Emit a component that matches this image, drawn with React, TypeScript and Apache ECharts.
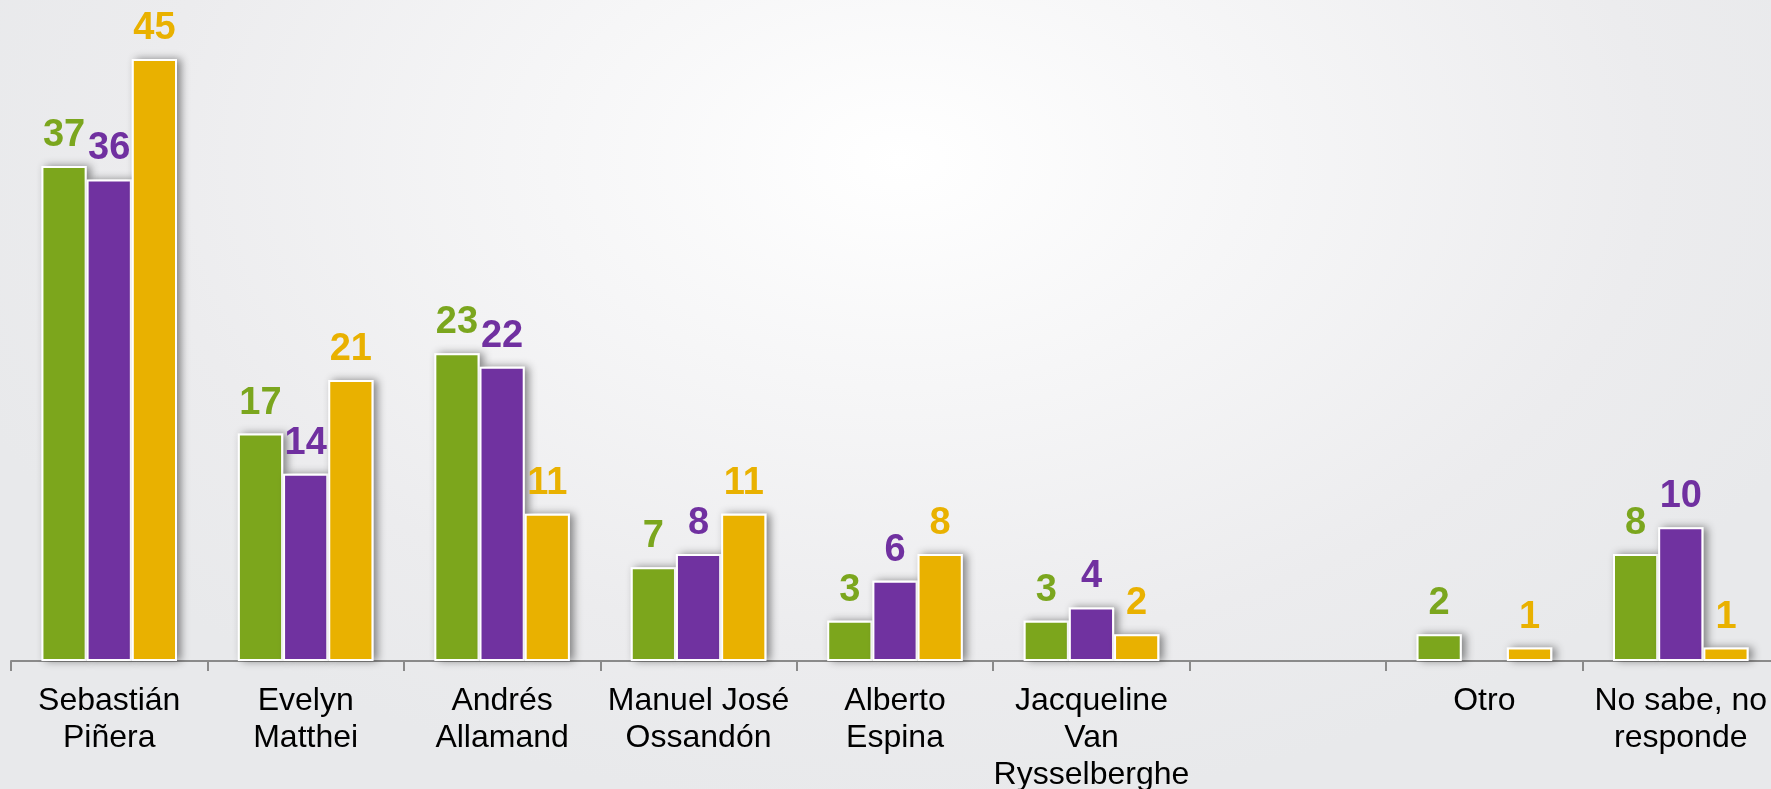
import React, { useEffect, useRef } from "react";
import * as echarts from "echarts";

const categories = [
  "Sebastián\nPiñera",
  "Evelyn\nMatthei",
  "Andrés\nAllamand",
  "Manuel José\nOssandón",
  "Alberto\nEspina",
  "Jacqueline\nVan\nRysselberghe",
  "",
  "Otro",
  "No sabe, no\nresponde",
];
const greenValues = [37, 17, 23, 7, 3, 3, null, 2, 8];
const purpleValues = [36, 14, 22, 8, 6, 4, null, null, 10];
const goldValues = [45, 21, 11, 11, 8, 2, null, 1, 1];

const GREEN = "#7ba61e";
const PURPLE = "#7030a0";
const GOLD = "#e9b100";
const FONT = "'Liberation Sans', Arial, sans-serif";

function makeSeries(name: string, data: (number | null)[], color: string) {
  return {
    name,
    type: "bar",
    data,
    barGap: "0%",
    barCategoryGap: "31%",
    itemStyle: {
      color,
      borderColor: "#ffffff",
      borderWidth: 2,
      shadowColor: "rgba(0,0,0,0.45)",
      shadowBlur: 8,
      shadowOffsetX: 4,
      shadowOffsetY: 0,
    },
    label: {
      show: true,
      position: "top",
      distance: 14,
      color,
      fontFamily: FONT,
      fontWeight: "bold",
      fontSize: 38,
    },
  };
}

export default function App() {
  const ref = useRef<HTMLDivElement>(null);
  useEffect(() => {
    if (!ref.current) return;
    const chart = echarts.init(ref.current, null, { renderer: "svg" });
    chart.setOption({
      animation: false,
      backgroundColor: "transparent",
      grid: {
        left: 11,
        top: 59,
        width: 1768,
        height: 602,
        containLabel: false,
        outerBoundsMode: "none",
      },
      xAxis: {
        type: "category",
        data: categories,
        axisLine: { show: true, lineStyle: { color: "#8a8a8a", width: 2 } },
        axisTick: { show: true, length: 10, lineStyle: { color: "#8a8a8a", width: 2 } },
        axisLabel: {
          interval: 0,
          margin: 19,
          color: "#000000",
          fontFamily: FONT,
          fontSize: 32,
          lineHeight: 37,
        },
      },
      yAxis: {
        type: "value",
        min: 0,
        max: 45,
        show: false,
        splitLine: { show: false },
      },
      series: [
        makeSeries("Serie 1", greenValues, GREEN),
        makeSeries("Serie 2", purpleValues, PURPLE),
        makeSeries("Serie 3", goldValues, GOLD),
      ],
    });
    return () => chart.dispose();
  }, []);
  return (
    <div
      style={{
        position: "fixed",
        left: 0,
        top: 0,
        width: 1771,
        height: 789,
        overflow: "hidden",
        background:
          "radial-gradient(ellipse 1000px 650px at 900px 160px, #ffffff 0%, #f6f6f7 35%, #ececee 75%, #e8e9eb 100%)",
      }}
    >
      <div ref={ref} style={{ width: 1771, height: 789 }} />
    </div>
  );
}
